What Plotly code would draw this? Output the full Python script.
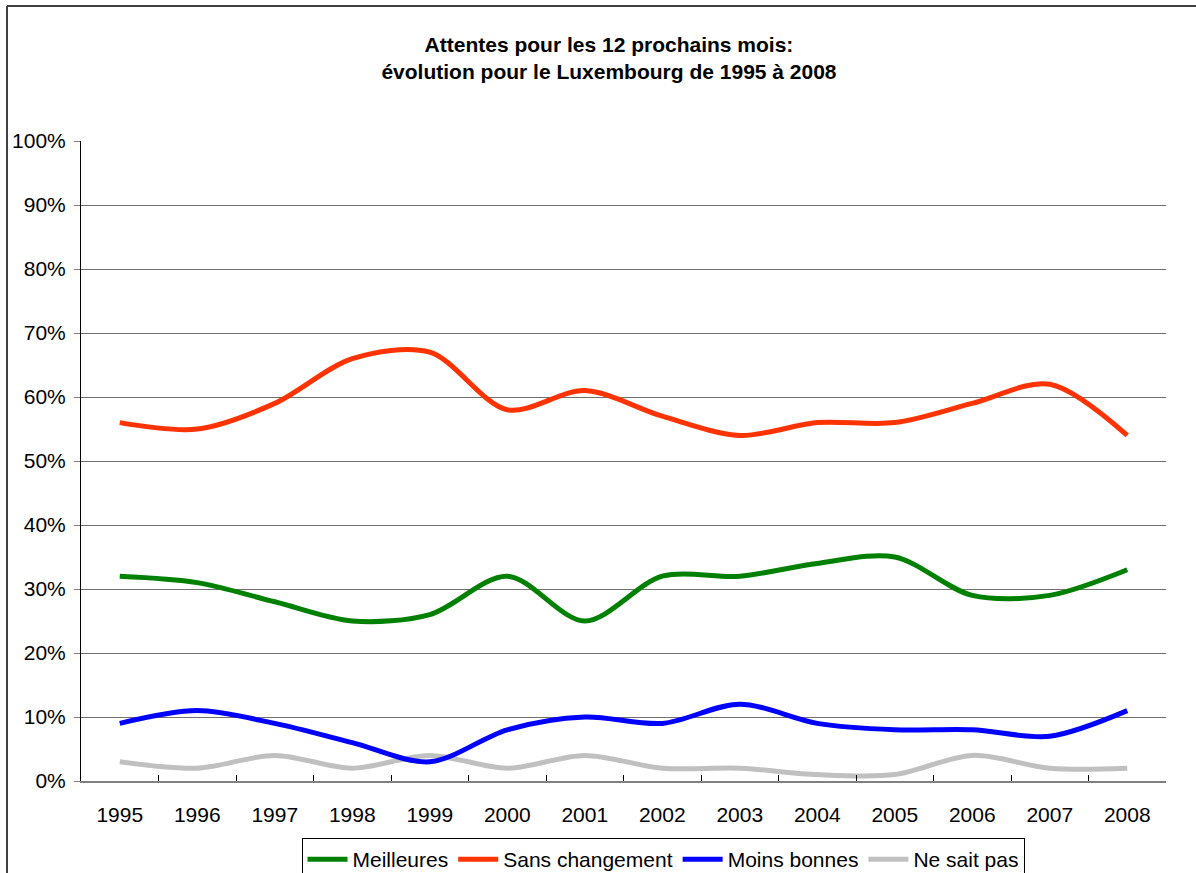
import plotly.graph_objects as go

annees = ['1995', '1996', '1997', '1998', '1999', '2000', '2001',
          '2002', '2003', '2004', '2005', '2006', '2007', '2008']
meilleures = [32, 31, 28, 25, 26, 32, 25, 32, 32, 34, 35, 29, 29, 33]
sans_changement = [56, 55, 59, 66, 67, 58, 61, 57, 54, 56, 56, 59, 62, 54]
moins_bonnes = [9, 11, 9, 6, 3, 8, 10, 9, 12, 9, 8, 8, 7, 11]
ne_sait_pas = [3, 2, 4, 2, 4, 2, 4, 2, 2, 1, 1, 4, 2, 2]

series = [('Meilleures', meilleures, '#008000'),
          ('Sans changement', sans_changement, '#FF3300'),
          ('Moins bonnes', moins_bonnes, '#0000FF'),
          ('Ne sait pas', ne_sait_pas, '#C0C0C0')]

W, H = 1196, 873
L, R, T, B = 81, 30, 141, 92
pw, ph = W - L - R, H - T - B

fig = go.Figure()
# dessiner en ordre inverse pour que le vert/rouge restent au dessus
for nom, vals, col in reversed(series):
    fig.add_trace(go.Scatter(x=annees, y=[v / 100 for v in vals], name=nom,
                             mode='lines',
                             line=dict(color=col, width=5, shape='spline', smoothing=0.9)))

font = 'Liberation Sans, Arial, sans-serif'
fig.update_layout(
    width=W, height=H,
    margin=dict(l=L, r=R, t=T, b=B, autoexpand=False),
    paper_bgcolor='white', plot_bgcolor='white',
    font=dict(family=font, size=21, color='black'),
    title=dict(text='<b>Attentes pour les 12 prochains mois:<br>évolution pour le Luxembourg de 1995 à 2008</b>',
               x=609 / W, xanchor='center', y=1 - 51.5 / H, yanchor='middle',
               font=dict(size=21, family=font)),
    showlegend=True,
    legend=dict(orientation='h', traceorder='reversed',
                x=(663 - L) / pw, xanchor='center',
                y=-(838 - (H - B)) / ph, yanchor='top',
                bordercolor='black', borderwidth=1,
                font=dict(size=21), itemwidth=40, tracegroupgap=0),
    hovermode=False,
)

fig.update_xaxes(type='category', showgrid=False, showline=True, linecolor='#808080', linewidth=2,
                 ticks='inside', tickson='boundaries', ticklen=6, tickcolor='black', tickwidth=1,
                 tickfont=dict(size=21), ticklabelstandoff=14, range=[-0.5, 13.5])
fig.update_yaxes(range=[0, 1], dtick=0.1, tickformat='.0%', showgrid=True,
                 gridcolor='#707070', gridwidth=1, showline=True, linecolor='black', linewidth=1,
                 ticks='outside', ticklen=6, tickcolor='#808080', tickfont=dict(size=21),
                 ticklabelstandoff=4, zeroline=False)

# cadre du graphique (haut et gauche visibles)
fig.add_shape(type='line', xref='paper', yref='paper',
              x0=(7 - L) / pw, x1=(W + 10 - L) / pw, y0=(H - B - 6) / ph, y1=(H - B - 6) / ph,
              line=dict(color='#404040', width=2))
fig.add_shape(type='line', xref='paper', yref='paper',
              x0=(7 - L) / pw, x1=(7 - L) / pw, y0=(H - B - 6) / ph, y1=-(B + 10) / ph,
              line=dict(color='#404040', width=2))

fig.write_html('out.html', config={'displayModeBar': False},
               post_script="document.body.style.margin='0';")
